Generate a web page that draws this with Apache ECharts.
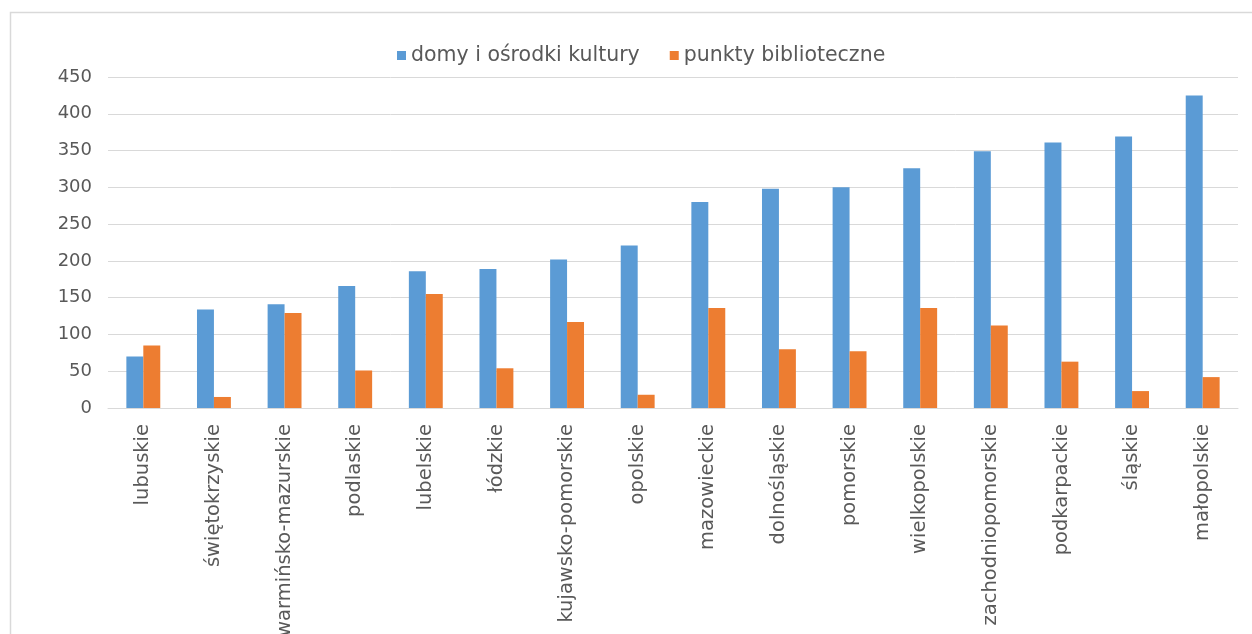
<!DOCTYPE html>
<html><head><meta charset="utf-8">
<script src="https://cdn.jsdelivr.net/npm/echarts@6/dist/echarts.min.js"></script>
<style>html,body{margin:0;padding:0;background:#fff}#c{width:1252px;height:634px}</style>
</head><body><div id="c"></div>
<script>
const categories = ['lubuskie','świętokrzyskie','warmińsko-mazurskie','podlaskie','lubelskie','łódzkie','kujawsko-pomorskie','opolskie','mazowieckie','dolnośląskie','pomorskie','wielkopolskie','zachodniopomorskie','podkarpackie','śląskie','małopolskie'];
const domyKultury = [70,134,141,166,186,189,202,221,280,298,300,326,349,361,369,425];
const punktyBiblioteczne = [85,15,129,51,155,54,117,18,136,80,77,136,112,63,23,42];
const seriesNames = ['domy i ośrodki kultury','punkty biblioteczne'];

const chart = echarts.init(document.getElementById('c'), null, {renderer:'canvas'});
const font = 'DejaVu Sans';
chart.setOption({
  animation:false,
  backgroundColor:'#fff',
  graphic:[{type:'rect',shape:{x:10.5,y:12.5,width:1260,height:640},style:{fill:'none',stroke:'#d9d9d9',lineWidth:1.5},silent:true}],
  legend:{top:40,left:392,itemWidth:9,itemHeight:9,itemGap:30,icon:'rect',
    textStyle:{color:'#595959',fontSize:20.5,fontFamily:font},data:seriesNames},
  grid:{left:108,right:14,top:77,bottom:226,containLabel:false,outerBoundsMode:'none'},
  xAxis:{type:'category',data:categories,
    axisLine:{lineStyle:{color:'#d9d9d9',width:1}},axisTick:{show:false},
    axisLabel:{rotate:90,interval:0,color:'#595959',fontSize:19.5,fontFamily:font,margin:16}},
  yAxis:{type:'value',min:0,max:450,interval:50,
    axisLine:{show:false},axisTick:{show:false},
    splitLine:{lineStyle:{color:'#d9d9d9',width:1}},
    axisLabel:{color:'#595959',fontSize:18,fontFamily:font,margin:16}},
  series:[
    {name:seriesNames[0],type:'bar',data:domyKultury,itemStyle:{color:'#5b9bd5'},barGap:'0%',barCategoryGap:'52%'},
    {name:seriesNames[1],type:'bar',data:punktyBiblioteczne,itemStyle:{color:'#ed7d31'},barGap:'0%',barCategoryGap:'52%'}
  ]
});
</script></body></html>
